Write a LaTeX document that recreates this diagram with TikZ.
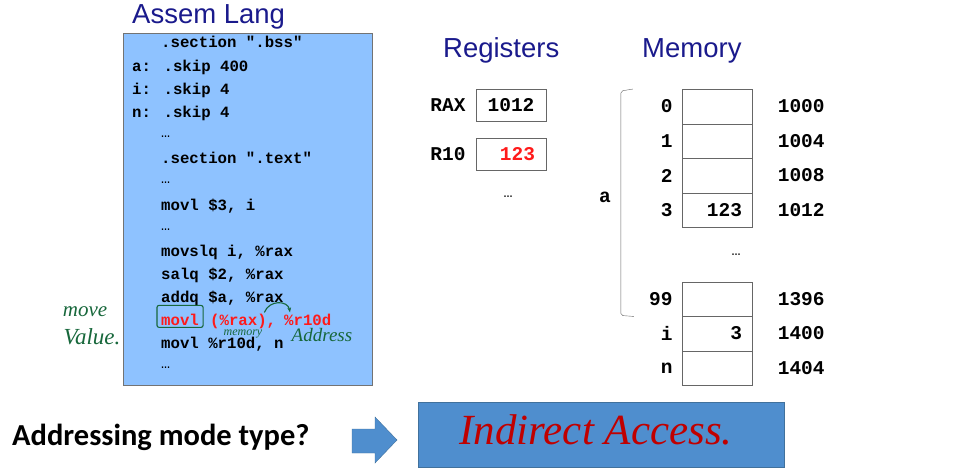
\documentclass[tikz,border=0pt]{standalone}
\usepackage{fontspec}
\newfontfamily\titlefont{Liberation Sans}
\newfontfamily\codefont{Liberation Mono}
\newfontfamily\slidefont{Carlito}
\newfontfamily\handfont{Liberation Serif}
\usetikzlibrary{arrows.meta,positioning,calc}
\definecolor{codebg}{HTML}{8EC2FF}
\definecolor{navy}{HTML}{1A1A8C}
\definecolor{ink}{HTML}{17673B}
\definecolor{slideblue}{HTML}{4F8ECE}
\definecolor{slideedge}{HTML}{41719C}
\definecolor{hotred}{HTML}{FF1A1A}
\definecolor{penred}{HTML}{C00000}

\begin{document}
\begin{tikzpicture}[x=1pt,y=-1pt,
  code/.style={font=\codefont\bfseries\fontsize{15.7}{18}\selectfont,inner sep=0pt,anchor=base west},
  dots/.style={font=\codefont\fontsize{15}{16}\selectfont,inner sep=0pt,anchor=base west},
  head/.style={font=\titlefont\fontsize{27.5}{30}\selectfont,text=navy,inner sep=0pt,anchor=base west},
  big/.style={font=\codefont\bfseries\fontsize{19.5}{22}\selectfont,inner sep=0pt},
  cell/.style={draw=black!60,minimum width=70pt,minimum height=34.5pt,inner sep=0pt},
  regbox/.style={draw=black!60,minimum width=70pt,minimum height=32pt,inner sep=0pt},
  hand/.style={font=\handfont\itshape\fontsize{#1}{#1}\selectfont,text=ink,inner sep=0pt},
  hand/.default=20]
\useasboundingbox (0,0) rectangle (970,471);

%-------------------------------------------------------------------
% Left: assembly listing
\node[head] (asmtitle) at (132,23.5) {Assem Lang};
\filldraw[fill=codebg,draw=black!55] (123,33) rectangle (372,385);

\foreach \x/\y/\t in {161/47.5/{.section ".bss"},132/71/{a: .skip 400},132/94/{i: .skip 4},
    132/117/{n: .skip 4},161/163/{.section ".text"},161/210/{movl \$3, i},
    161/256/{movslq i, \%rax},161/279/{salq \$2, \%rax},161/302/{addq \$a, \%rax},
    161/348/{movl \%r10d, n}}{
    \node[code] at (\x,\y) {\t};
}
\foreach \y in {137,183,230,368}{
    \node[dots] at (161,\y) {…};
}

% the load instruction (red)
\node[code,text=hotred] (ldop)  at (161,325) {movl};
\node[code,text=hotred] (ldsrc) at (210,325) {(\%rax),};
\node[code,text=hotred] (lddst) at (284,325) {\%r10d};

% pen notes
\draw[ink,line width=1.1pt,rounded corners=2pt]
  ([shift={(-4,-8)}]ldop.north west) rectangle ([shift={(4,2)}]ldop.south east);
\draw[ink,line width=1.1pt,-{Stealth[length=5pt]}]
  ([xshift=-12pt,yshift=1pt]ldsrc.north east) .. controls +(5,-13) and +(-2,-12) ..
  ([xshift=6pt,yshift=1pt]lddst.north west);
\node[hand=21] (notemove)  at (85,312) {move};
\node[hand=23] (notevalue) at (92,337) {Value.};
\node[hand=12,anchor=base] (notemem) at (243,335) {memory};
\node[hand=19] (noteaddr)  at (322,335) {Address};

%-------------------------------------------------------------------
% Registers
\node[head] (regtitle) at (443,57.7) {Registers};
\node[regbox] (rax) at (511,105) {};
\node[regbox] (r10) at (511,154) {};
\node[big] at (rax) {1012};
\node[big,anchor=east,text=hotred] at ([xshift=-11pt]r10.east) {123};
\node[big,anchor=east] (raxlbl) at ([xshift=-10pt]rax.west) {RAX};
\node[big,anchor=east] (r10lbl) at ([xshift=-10pt]r10.west) {R10};
\node[dots,anchor=base] at (508,197) {…};

%-------------------------------------------------------------------
% Memory
\node[head] (memtitle) at (642,57.7) {Memory};
\foreach \n/\y/\v/\ad in {0/106.5//1000,1/141/ /1004,2/175.5/ /1008,3/210/123/1012,
    99/299/ /1396,i/333.5/3/1400,n/368/ /1404}{
    \node[cell] (m\n) at (717,\y) {};
    \node[big,anchor=east] (idx\n) at ([xshift=-9pt]m\n.west) {\n};
    \node[big,anchor=east] (val\n) at ([xshift=-10pt]m\n.east) {\v};
    \node[big] (ad\n) at ([xshift=49pt]m\n.east) {\ad};
}
\node[dots,anchor=base] at (736,255) {…};

% bracket for array a
\draw[black!60,rounded corners=2pt]
  ([xshift=-49pt]m0.north west) -- ([xshift=-61pt,yshift=-2pt]m0.north west)
  -- ([xshift=-61pt,yshift=1pt]m99.south west) -- ([xshift=-48pt]m99.south west);
\node[big] (arrname) at (605,197) {a};

%-------------------------------------------------------------------
% Question and answer
\node[font=\slidefont\bfseries\fontsize{30.5}{34}\selectfont,inner sep=0pt,anchor=base west]
  (question) at (12,445) {Addressing mode type?};
\filldraw[fill=slideblue,draw=slideedge]
  (352,429) -- (375,429) -- (375,417) -- (397,440) -- (375,463) -- (375,453) -- (352,453) -- cycle;
\node[fill=slideblue,draw=slideedge,minimum width=366pt,minimum height=65pt] (answer) at (601,435) {};
\node[font=\handfont\itshape\fontsize{43}{45}\selectfont,text=penred,inner sep=0pt]
  (answertxt) at (596,430) {Indirect Access.};

\end{tikzpicture}
\end{document}
